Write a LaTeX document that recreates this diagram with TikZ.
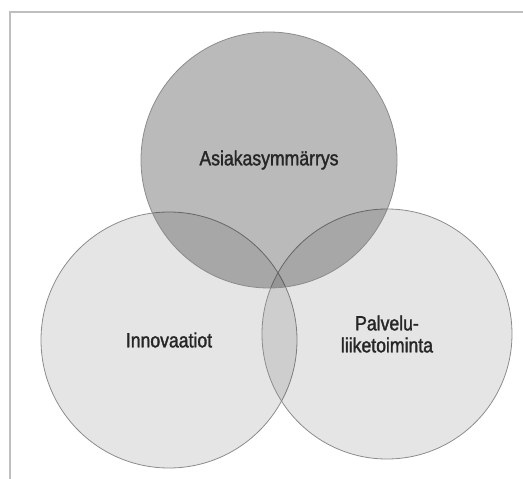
\documentclass[tikz,border=0pt]{standalone}
\usepackage{fontspec}
\newfontfamily\condfont{Liberation Sans}[FakeStretch=0.86,FakeBold=1.6]
\usepackage{tikz}

\begin{document}
\begin{tikzpicture}[x=1pt,y=-1pt,semithick]
  \tikzstyle{every node}=[font=\condfont\fontsize{20.5}{22}\selectfont,text=black!85]
  \tikzstyle{venn}=[circle,draw=black!45,line width=0.8pt,inner sep=0pt,
                    minimum size=256pt,align=center]
  \tikzstyle{light}=[fill=black,fill opacity=0.1,text opacity=1]
  \tikzstyle{dark}=[fill=black,fill opacity=0.27,text opacity=1]
  \tikzstyle{frame}=[draw=black!25,line width=1.2pt]

  \useasboundingbox (0,0) rectangle (523,479);
  \coordinate (F0) at (10,479);
  \coordinate (F1) at (10,12);
  \coordinate (F2) at (523,12);
  \draw[frame] (F0) -- (F1) -- (F2);

  \node[venn,light] (I) at (169,340) {Innovaatiot};
  \node[venn,light,minimum size=250pt] (P) at (387,334) {Palvelu-\\liiketoiminta};
  \node[venn,dark] (A) at (269,160) {Asiakasymmärrys};
\end{tikzpicture}
\end{document}
